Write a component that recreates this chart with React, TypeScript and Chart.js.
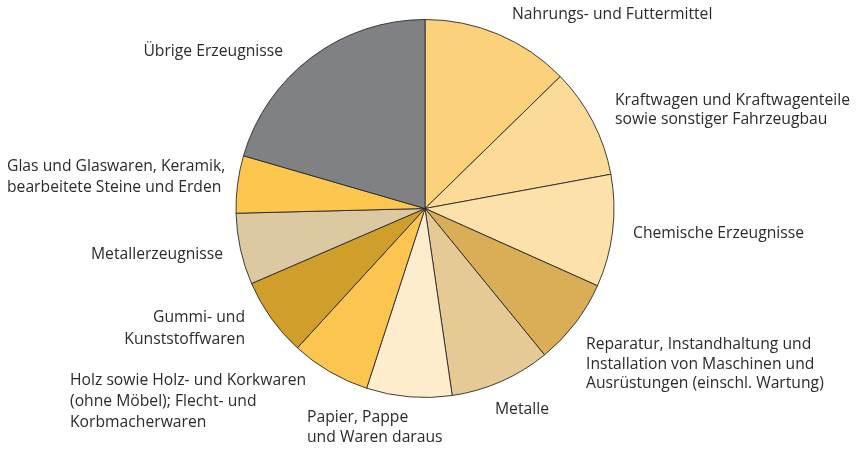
import React, { useEffect, useRef } from "react";
import { Chart, registerables } from "chart.js";

Chart.register(...registerables);

const categories: string[] = [
  "Nahrungs- und Futtermittel",
  "Kraftwagen und Kraftwagenteile sowie sonstiger Fahrzeugbau",
  "Chemische Erzeugnisse",
  "Reparatur, Instandhaltung und Installation von Maschinen und Ausrüstungen (einschl. Wartung)",
  "Metalle",
  "Papier, Pappe und Waren daraus",
  "Holz sowie Holz- und Korkwaren (ohne Möbel); Flecht- und Korbmacherwaren",
  "Gummi- und Kunststoffwaren",
  "Metallerzeugnisse",
  "Glas und Glaswaren, Keramik, bearbeitete Steine und Erden",
  "Übrige Erzeugnisse",
];

const shares: number[] = [12.7, 9.4, 9.6, 7.4, 8.6, 7.3, 6.8, 6.7, 6.1, 4.9, 20.5];

const labelLines: string[][] = [
  ["Nahrungs- und Futtermittel"],
  ["Kraftwagen und Kraftwagenteile", "sowie sonstiger Fahrzeugbau"],
  ["Chemische Erzeugnisse"],
  ["Reparatur, Instandhaltung und", "Installation von Maschinen und", "Ausrüstungen (einschl. Wartung)"],
  ["Metalle"],
  ["Papier, Pappe", "und Waren daraus"],
  ["Holz sowie Holz- und Korkwaren", "(ohne Möbel); Flecht- und", "Korbmacherwaren"],
  ["Gummi- und", "Kunststoffwaren"],
  ["Metallerzeugnisse"],
  ["Glas und Glaswaren, Keramik,", "bearbeitete Steine und Erden"],
  ["Übrige Erzeugnisse"],
];

const colors: string[] = [
  "#FBD17C",
  "#FCDB98",
  "#FDE1AA",
  "#DAAE57",
  "#E6CA96",
  "#FEEDCD",
  "#FCC54F",
  "#D09E2A",
  "#DCC9A1",
  "#FDC64E",
  "#808184",
];

// label placement relative to the pie centre: [dx, dy of first line middle, align, line height]
const labelPlacement: [number, number, CanvasTextAlign, number][] = [
  [87, -194, "left", 20],
  [190, -108, "left", 19.5],
  [208, 25.5, "left", 20],
  [161, 136.5, "left", 19.2],
  [70, 201.5, "left", 20],
  [-118, 209.5, "left", 20],
  [-355, 172.5, "left", 20.8],
  [-180, 108.8, "right", 22],
  [-202, 45.8, "right", 20],
  [-418, -41.8, "left", 21],
  [-142, -156.8, "right", 20],
];

const FONT = '15.7px "Open Sans", sans-serif';

const labelPlugin = {
  id: "outsideLabels",
  afterDatasetsDraw(chart: any) {
    const meta = chart.getDatasetMeta(0);
    const arc = meta.data[0];
    if (!arc) return;
    const cx = arc.x;
    const cy = arc.y;
    const ctx: CanvasRenderingContext2D = chart.ctx;
    ctx.save();
    ctx.font = FONT;
    ctx.fillStyle = "#2b2b2b";
    ctx.textBaseline = "middle";
    labelLines.forEach((lines, i) => {
      const [dx, dy, align, lh] = labelPlacement[i];
      ctx.textAlign = align;
      lines.forEach((line, j) => {
        ctx.fillText(line, cx + dx, cy + dy + j * lh);
      });
    });
    ctx.restore();
  },
};

export default function App() {
  const ref = useRef<HTMLCanvasElement | null>(null);

  useEffect(() => {
    document.body.style.margin = "0";
    const canvas = ref.current;
    if (!canvas) return;
    const chart = new Chart(canvas, {
      type: "pie",
      data: {
        labels: categories,
        datasets: [
          {
            data: shares,
            backgroundColor: colors,
            borderColor: "#2a2a2a",
            borderWidth: 0.9,
          },
        ],
      },
      options: {
        responsive: false,
        animation: false,
        radius: 189,
        layout: { padding: { left: 0, right: 10, top: 0, bottom: 35 } },
        plugins: {
          legend: { display: false },
          tooltip: { enabled: false },
          title: { display: false },
        },
      } as any,
      plugins: [labelPlugin],
    });
    return () => chart.destroy();
  }, []);

  return (
    <div style={{ position: "absolute", left: 0, top: 0, width: 860, height: 452, background: "#fff" }}>
      <canvas ref={ref} width={860} height={452} style={{ width: 860, height: 452 }} />
    </div>
  );
}
